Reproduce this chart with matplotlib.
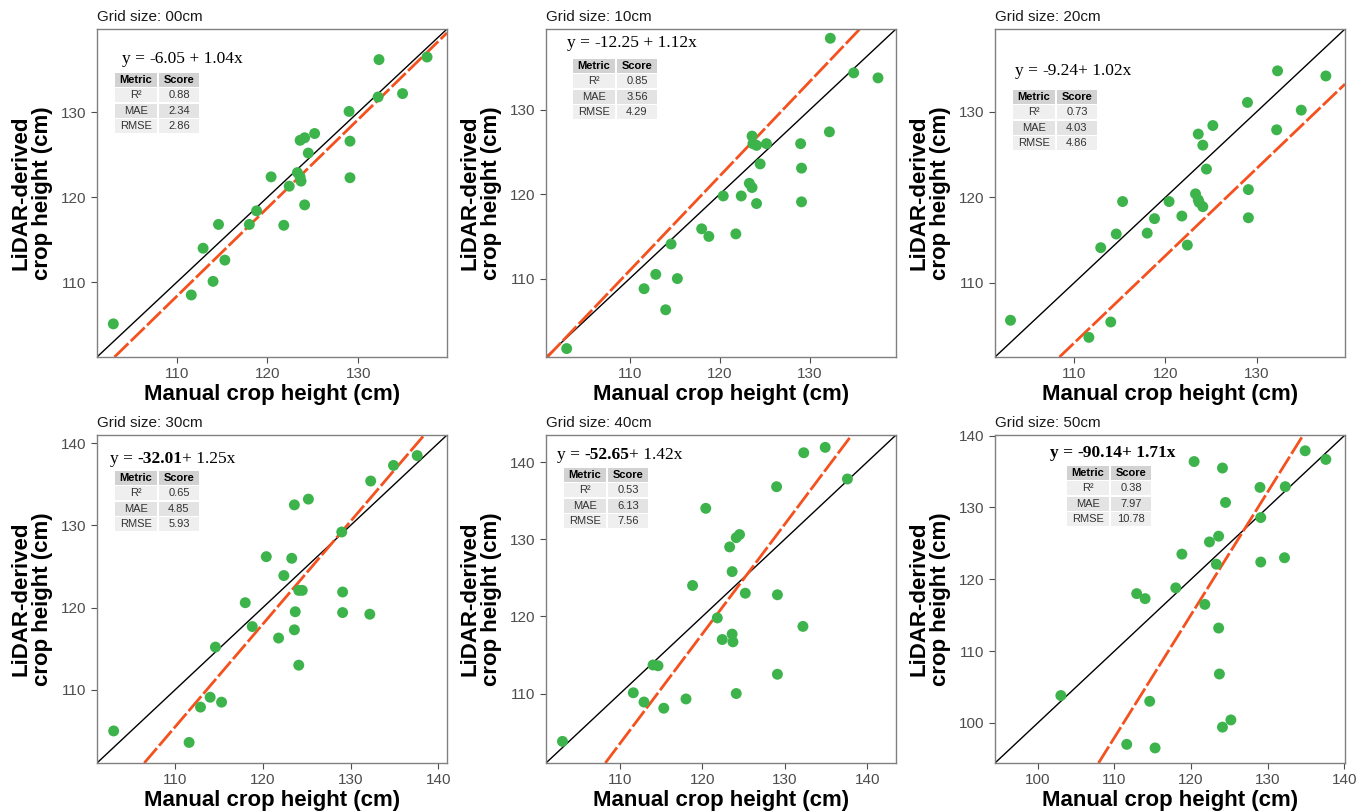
import matplotlib.pyplot as plt
from matplotlib.patches import Rectangle
from matplotlib.ticker import MultipleLocator

plt.rcParams['font.family'] = ['Liberation Sans', 'DejaVu Sans']

# manual plot heights (cm), same plots for every grid size
manual = [103.0, 111.6, 112.9, 114.0, 114.6, 115.3, 118.0, 118.8, 120.4, 121.8,
          122.4, 123.3, 123.6, 123.6, 123.7, 124.1, 124.1, 124.5, 125.2, 129.0,
          129.1, 129.1, 132.2, 132.3, 134.9, 137.6]

# lidar-derived heights per grid size
lidar_00 = [105.1, 108.5, 114.0, 110.1, 116.8, 112.6, 116.8, 118.4, 122.4, 116.7,
            121.3, 122.9, 126.7, 122.4, 121.9, 127.0, 119.1, 125.2, 127.5, 130.1,
            126.6, 122.3, 131.8, 136.2, 132.2, 136.5]
lidar_10 = [101.7, 108.8, 110.5, 106.3, 114.1, 110.0, 115.9, 115.0, 119.8, 115.3,
            119.8, 121.3, 126.9, 120.8, 126.0, 118.9, 125.8, 123.6, 126.0, 126.0,
            123.1, 119.1, 127.4, 138.5, 134.4, 133.8]
lidar_20 = [105.6, 103.6, 114.1, 105.4, 115.7, 119.5, 115.8, 117.5, 119.5, 117.8,
            114.4, 120.4, 127.4, 119.7, 119.4, 118.9, 126.1, 123.3, 128.4, 131.1,
            120.9, 117.6, 127.9, 134.8, 130.2, 134.2]
lidar_30 = [105.0, 103.6, 107.9, 109.1, 115.2, 108.5, 120.6, 117.7, 126.2, 116.3,
            123.9, 126.0, 132.5, 117.3, 119.5, 122.1, 113.0, 122.1, 133.2, 129.2,
            121.9, 119.4, 119.2, 135.4, 137.3, 138.5]
lidar_40 = [103.8, 110.1, 108.9, 113.7, 113.6, 108.1, 109.3, 124.0, 134.0, 119.8,
            117.0, 129.0, 125.8, 117.7, 116.7, 130.2, 110.0, 130.6, 123.0, 136.8,
            122.8, 112.5, 118.7, 141.2, 141.9, 137.8]
lidar_50 = [103.8, 97.0, 118.0, 117.3, 103.0, 96.5, 118.8, 123.5, 136.4, 116.5,
            125.2, 122.1, 126.0, 113.2, 106.8, 135.5, 99.4, 130.7, 100.4, 132.8,
            128.6, 122.4, 123.0, 132.9, 137.9, 136.7]

grid_sizes = ['00cm', '10cm', '20cm', '30cm', '40cm', '50cm']
lidar = [lidar_00, lidar_10, lidar_20, lidar_30, lidar_40, lidar_50]

# fitted lines and scores
intercepts = [-6.05, -12.25, -9.24, -32.01, -52.65, -90.14]
slopes = [1.04, 1.12, 1.02, 1.25, 1.42, 1.71]
r2 = ['0.88', '0.85', '0.73', '0.65', '0.53', '0.38']
mae = ['2.34', '3.56', '4.03', '4.85', '6.13', '7.97']
rmse = ['2.86', '4.29', '4.86', '5.93', '7.56', '10.78']

# layout per panel
limits = [(101.2, 139.8), (100.7, 139.6), (101.3, 139.7),
          (101.1, 141.0), (101.0, 143.5), (94.4, 140.1)]
eq_sep = [' + ', ' + ', '+ ', '+ ', '+ ', '+ ']
eq_bold = ['none', 'none', 'none', 'intercept', 'intercept', 'all']
eq_pos = [(25, 38), (21, 22), (20, 50), (13, 32), (11, 28), (55, 26)]   # px from top-left
tab_pos = [(18, 44), (27, 30), (18, 61), (18, 36), (18, 33), (72, 31)]

AX_W, AX_H = 350, 328
FIG_W, FIG_H = 1372, 811
lefts = [97, 546, 995]
tops = [29, 435]

GREEN = '#3cb44b'
ORANGE = '#f4511e'


def draw_equation(ax, k):
    a, b = intercepts[k], slopes[k]
    bold = eq_bold[k]
    pieces = [('y = ', bold == 'all'),
              (f'{a:.2f}', bold in ('all', 'intercept')),
              (f'{eq_sep[k]}{b:.2f}x', bold == 'all')]
    dx, dy = eq_pos[k]
    prev = None
    for s, bf in pieces:
        kw = dict(fontsize=12.5, family='Liberation Serif', color='black',
                  fontweight='bold' if bf else 'normal', ha='left', va='bottom',
                  annotation_clip=False)
        if prev is None:
            prev = ax.annotate(s, xy=(dx / AX_W, 1 - dy / AX_H),
                               xycoords='axes fraction', **kw)
        else:
            prev = ax.annotate(s, xy=(1, 0), xycoords=prev, **kw)


def draw_table(ax, k):
    x0, y0 = tab_pos[k]
    cols = [(0, 42), (44, 40)]
    rows = [('Metric', 'Score', '#d2d2d2', True),
            ('R²', r2[k], '#efefef', False),
            ('MAE', mae[k], '#e3e3e3', False),
            ('RMSE', rmse[k], '#efefef', False)]
    rh, gap = 14.0, 1.4
    for i, (c1, c2, fc, hdr) in enumerate(rows):
        top = y0 + i * (rh + gap)
        for (cx, cw), txt in zip(cols, (c1, c2)):
            ax.add_patch(Rectangle(((x0 + cx) / AX_W, 1 - (top + rh) / AX_H),
                                   cw / AX_W, rh / AX_H, transform=ax.transAxes,
                                   facecolor=fc, edgecolor='none', clip_on=False,
                                   zorder=4))
            ax.text((x0 + cx + cw / 2) / AX_W, 1 - (top + rh / 2) / AX_H, txt,
                    transform=ax.transAxes, ha='center', va='center',
                    fontsize=8, fontweight='bold' if hdr else 'normal',
                    color='black' if hdr else '#333333', zorder=5)


fig = plt.figure(figsize=(FIG_W / 100, FIG_H / 100), dpi=100)

for k in range(6):
    r, c = divmod(k, 3)
    ax = fig.add_axes([lefts[c] / FIG_W, 1 - (tops[r] + AX_H) / FIG_H,
                       AX_W / FIG_W, AX_H / FIG_H])
    lo, hi = limits[k]
    ax.set_xlim(lo, hi)
    ax.set_ylim(lo, hi)

    ax.axline((lo, lo), slope=1, color='black', lw=1, zorder=2)
    ax.axline((0, intercepts[k]), slope=slopes[k], color=ORANGE, lw=2,
              dashes=(7, 1.2), zorder=2)
    ax.scatter(manual, lidar[k], s=62, color=GREEN, edgecolors='none', zorder=3)

    ax.xaxis.set_major_locator(MultipleLocator(10))
    ax.yaxis.set_major_locator(MultipleLocator(10))
    ax.tick_params(labelsize=11, labelcolor='#4d4d4d', color='#4d4d4d',
                   length=4, width=0.8)
    for sp in ax.spines.values():
        sp.set_color('#808080')
        sp.set_linewidth(1)

    ax.set_xlabel('Manual crop height (cm)', fontsize=16, fontweight='bold',
                  labelpad=2)
    ax.set_ylabel('LiDAR-derived\ncrop height (cm)', fontsize=16,
                  fontweight='bold', labelpad=6, linespacing=1.0)
    ax.set_title(f'Grid size: {grid_sizes[k]}', loc='left', fontsize=11,
                 pad=6, color='#1a1a1a')

    draw_equation(ax, k)
    draw_table(ax, k)

fig.savefig('out.png', dpi=100)
